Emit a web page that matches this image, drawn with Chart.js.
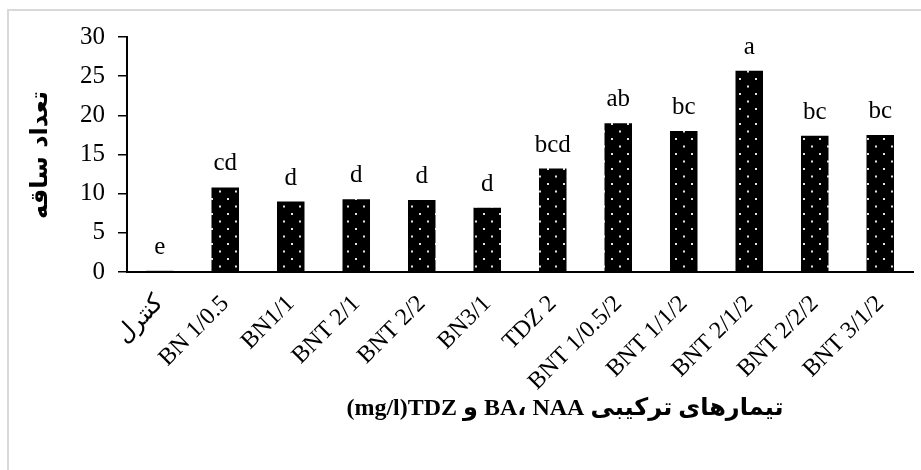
<!DOCTYPE html>
<html>
<head>
<meta charset="utf-8">
<script src="https://cdn.jsdelivr.net/npm/chart.js@4.4.0/dist/chart.umd.min.js"></script>
<style>
  html, body { margin: 0; padding: 0; background: #fff; }
  #wrap { position: relative; width: 921px; height: 470px; overflow: hidden; }
  #frame { position: absolute; left: 7px; top: 9px; width: 1000px; height: 600px;
           border-left: 2px solid #d9d9d9; border-top: 2px solid #d9d9d9; }
  #box { position: absolute; left: 0; top: 0; width: 921px; height: 470px; }
</style>
</head>
<body>
<div id="wrap">
  <div id="frame"></div>
  <div id="box"><canvas id="mycanvas"></canvas></div>
</div>
<script>
var categories = ['کنترل', 'BN 1/0.5', 'BN1/1', 'BNT 2/1', 'BNT 2/2', 'BN3/1', 'TDZ 2',
                  'BNT 1/0.5/2', 'BNT 1/1/2', 'BNT 2/1/2', 'BNT 2/2/2', 'BNT 3/1/2'];
var shootCounts = [0.15, 10.8, 9.0, 9.3, 9.2, 8.2, 13.2, 19.0, 18.0, 25.7, 17.4, 17.5];
var groupLetters = ['e', 'cd', 'd', 'd', 'd', 'd', 'bcd', 'ab', 'bc', 'a', 'bc', 'bc'];
var yTicks = [0, 5, 10, 15, 20, 25, 30];
var yTitle = 'تعداد ساقه';
var xTitle = '(mg/l)TDZ و BA، NAA تیمارهای ترکیبی';

var serif = "'Liberation Serif', 'Times New Roman', serif";

// black fill with staggered white dots
function dotPattern() {
  var c = document.createElement('canvas');
  c.width = 16; c.height = 15;
  var g = c.getContext('2d');
  g.fillStyle = '#000';
  g.fillRect(0, 0, 16, 15);
  g.fillStyle = '#e4e4e4';
  g.fillRect(3, 3, 2, 2);
  g.fillRect(11, 10.5, 2, 2);
  return g.createPattern(c, 'repeat');
}

var lettersPlugin = {
  id: 'letters',
  afterDatasetsDraw: function(chart) {
    var ctx = chart.ctx;
    var meta = chart.getDatasetMeta(0);
    ctx.save();
    ctx.fillStyle = '#000';
    ctx.font = '25px ' + serif;
    ctx.textAlign = 'center';
    ctx.textBaseline = 'alphabetic';
    meta.data.forEach(function(bar, i) {
      ctx.fillText(groupLetters[i], bar.x, bar.y - 17);
    });
    ctx.restore();
  }
};

var titlesPlugin = {
  id: 'titles',
  afterDraw: function(chart) {
    var ctx = chart.ctx;
    ctx.save();
    ctx.fillStyle = '#000';
    ctx.textAlign = 'center';
    ctx.textBaseline = 'middle';
    ctx.font = "bold 24px 'Liberation Serif', 'DejaVu Sans', serif";
    ctx.fillText(xTitle, 565, 409);
    ctx.translate(41, 155);
    ctx.rotate(-Math.PI / 2);
    ctx.font = "bold 24px 'DejaVu Sans', serif";
    ctx.fillText(yTitle, 0, 0);
    ctx.restore();
  }
};

var chartdata = {
  labels: categories,
  datasets: [{
    label: yTitle,
    data: shootCounts,
    backgroundColor: dotPattern(),
    borderColor: '#000',
    borderWidth: 0,
    barPercentage: 0.42,
    categoryPercentage: 1
  }]
};

var ctx = document.getElementById('mycanvas');
var barGraph = new Chart(ctx, {
  type: 'bar',
  data: chartdata,
  plugins: [lettersPlugin, titlesPlugin],
  options: {
    responsive: true,
    maintainAspectRatio: false,
    animation: false,
    layout: { padding: { left: 0, top: 37, right: 8, bottom: 0 } },
    plugins: { legend: { display: false }, tooltip: { enabled: false } },
    scales: {
      x: {
        grid: { display: false },
        border: { display: true, color: '#000', width: 2 },
        ticks: {
          color: '#000',
          font: { family: serif, size: 24 },
          minRotation: 45,
          maxRotation: 45,
          padding: 10,
          autoSkip: false
        },
        afterFit: function(scale) { scale.height = 198; }
      },
      y: {
        min: 0,
        max: 30,
        afterBuildTicks: function(scale) {
          scale.ticks = yTicks.map(function(v) { return { value: v }; });
        },
        grid: { display: true, drawOnChartArea: false, color: '#000', lineWidth: 1.5, tickLength: 9 },
        border: { display: true, color: '#000', width: 2 },
        ticks: {
          color: '#000',
          font: { family: serif, size: 25 },
          padding: 13
        },
        afterFit: function(scale) { scale.width = 127; }
      }
    }
  }
});
</script>
</body>
</html>
